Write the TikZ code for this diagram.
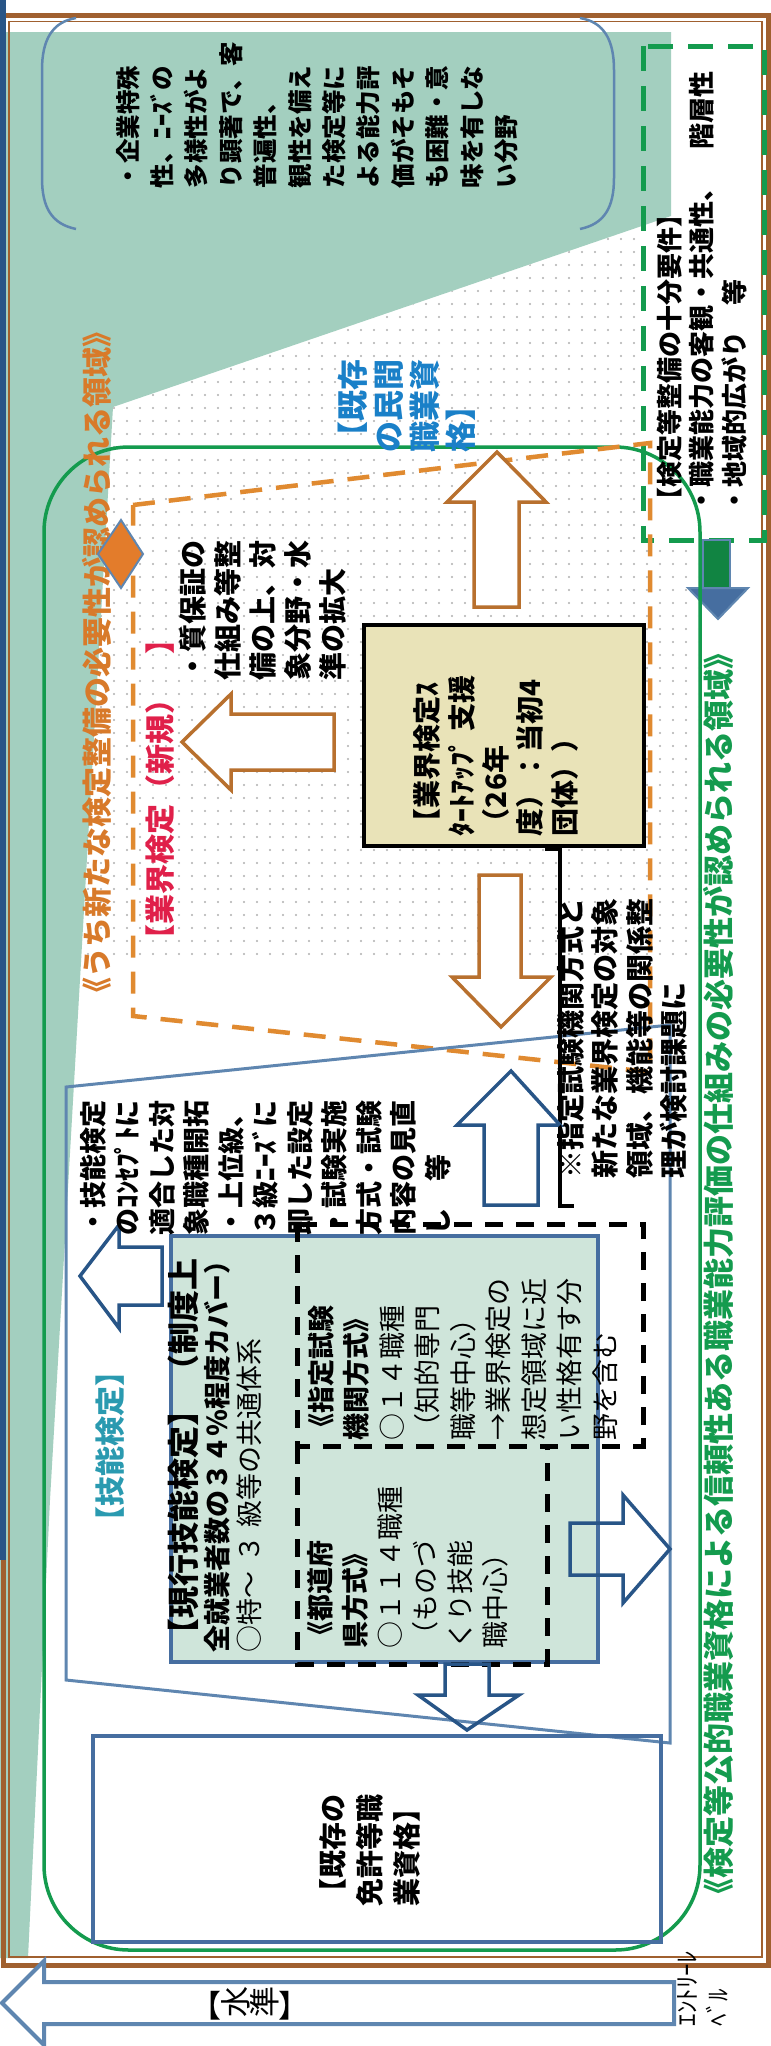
\documentclass[tikz,border=0pt]{standalone}
\usepackage{fontspec}
\usepackage{graphicx}
\setmainfont{Noto Sans CJK JP}
\definecolor{tealbg}{RGB}{163,207,191}
\definecolor{lightteal}{RGB}{207,229,218}
\definecolor{steelc}{RGB}{95,134,176}
\definecolor{boxblue}{RGB}{70,110,160}
\definecolor{navyc}{RGB}{40,85,135}
\definecolor{orangec}{RGB}{224,138,48}
\definecolor{obrown}{RGB}{184,112,46}
\definecolor{greenc}{RGB}{20,155,78}
\definecolor{brownc}{RGB}{160,96,47}
\definecolor{khaki}{RGB}{233,227,184}
\definecolor{redc}{RGB}{224,32,74}
\definecolor{bluetext}{RGB}{26,128,200}
\definecolor{tealtext}{RGB}{42,154,176}
\definecolor{orangetext}{RGB}{216,122,42}
\definecolor{dotc}{RGB}{175,175,175}
\newcommand{\fz}[2]{\fontsize{#1}{#2}\selectfont}
\begin{document}
\begin{tikzpicture}[x=1pt,y=-1pt,
  vt/.style={rotate=90,inner sep=0pt,outer sep=0pt,anchor=north west,align=left},
  ct/.style={rotate=90,inner sep=0pt,outer sep=0pt,anchor=center},
  oarrow/.style={draw=obrown,line width=3.5pt,fill=white,line join=miter},
  barrow/.style={draw=navyc,line width=3.5pt,line join=miter},
  bdash/.style={draw=black,line width=5pt,dash pattern=on 18pt off 13pt},
]
\useasboundingbox (0,0) rectangle (771,2046);
\fill[white] (0,0) rectangle (771,2046);
% teal background
\fill[tealbg] (0,32) -- (671,32) -- (671,216) -- (113,407) -- (50,1500) -- (28,1958) -- (0,1958) -- cycle;
% dotted area
\begin{scope}
\clip (113,407) -- (643,226) -- (643,540) -- (698,540) -- (698,965) -- (81,965) -- cycle;
\foreach \x in {75,88,...,700} {\foreach \y in {200,213,...,970} {\fill[dotc] (\x,\y) circle[radius=1.1pt];}}
\end{scope}
% frame
\draw[brownc,line width=5pt] (3,15) rectangle (768,1965);
\draw[brownc,line width=1.5pt] (9,21.5) rectangle (762,1957);
\fill[navyc] (0,0) rectangle (6,1560);
% top brackets
\draw[steelc,line width=2.5pt] (76,18) .. controls (52,22) and (42,40) .. (42,70) -- (42,178) .. controls (42,208) and (52,224) .. (76,229);
\draw[steelc,line width=2.5pt] (580,18) .. controls (604,22) and (614,40) .. (614,70) -- (614,178) .. controls (614,208) and (604,224) .. (580,229);
% green dashed box and green arrow
\draw[greenc,line width=5pt,dash pattern=on 25pt off 15pt] (643,46) rectangle (764,540);
\filldraw[fill=greenc!85!black,draw=steelc,line width=2.5pt] (703,540) rectangle (730,588);
\filldraw[fill=boxblue,draw=steelc,line width=2pt] (688,588) -- (748,588) -- (718,619) -- cycle;
% big green rounded region
\draw[greenc,line width=3.5pt,rounded corners=85pt] (44,447) rectangle (700,1950);
% orange dashed region
\draw[orangec,line width=4.5pt,dash pattern=on 22pt off 14pt] (133,505) -- (650,443) -- (650,1072) -- (133,1016) -- cycle;
% blue trapezoid
\draw[steelc,line width=3pt] (66,1087) -- (670,1025) -- (670,1743) -- (66,1680) -- cycle;
% current skills test box
\draw[boxblue,line width=3.5pt,fill=lightteal] (171,1236) rectangle (598,1662);
\draw[bdash] (297,1224) rectangle (643,1446);
\draw[bdash] (297,1446) -- (297,1664) -- (547,1664) -- (547,1446);
% licences box
\draw[boxblue,line width=3.5pt] (93,1736) rectangle (661,1942);
% centre box
\node[draw=black,line width=3.5pt,fill=khaki,minimum width=280pt,minimum height=221pt,inner sep=0pt] (cbox) at (504,735.5) {};
\coordinate (c1) at (545,849);
\coordinate (c2) at (560,849);
\coordinate (c3) at (560,1206);
\coordinate (c4) at (574,1206);
\draw[black,line width=4pt] (c1) -- (c2) -- (c3) -- (c4);
% orange arrows
\draw[oarrow] (182,742) -- (231,694) -- (231,714) -- (334,714) -- (334,770) -- (231,770) -- (231,790) -- cycle;
\draw[oarrow] (497,452) -- (546,502) -- (519,502) -- (519,607) -- (474,607) -- (474,502) -- (447,502) -- cycle;
\draw[oarrow] (501,1027) -- (551,977) -- (521,977) -- (521,875) -- (479,875) -- (479,977) -- (452,977) -- cycle;
% blue arrows
\draw[barrow,fill=white] (511,1071) -- (560,1125) -- (538,1125) -- (538,1205) -- (484,1205) -- (484,1125) -- (457,1125) -- cycle;
\draw[barrow,fill=white] (80,1276) -- (119,1225) -- (119,1247) -- (162,1247) -- (162,1305) -- (119,1305) -- (119,1328) -- cycle;
\draw[barrow] (670,1549) -- (623,1495) -- (623,1523) -- (570,1523) -- (570,1575) -- (623,1575) -- (623,1603) -- cycle;
\draw[barrow] (467,1730) -- (519,1695) -- (489,1695) -- (489,1664) -- (445,1664) -- (445,1695) -- (418,1695) -- cycle;
% level arrow
\draw[steelc,line width=4pt,fill=white,line join=miter] (2,2003) -- (44,1961) -- (44,1982) -- (674,1982) -- (674,2024) -- (44,2024) -- (44,2045) -- cycle;
% texts
\node[vt,font=\bfseries\fz{24.5}{34.4}] (topnote) at (116,188) {・企業特殊\\性、ﾆｰｽﾞの\\多様性がよ\\り顕著で、客\\普遍性、\\観性を備え\\た検定等に\\よる能力評\\価がそもそ\\も困難・意\\味を有しな\\い分野};
\node[vt,font=\bfseries\fz{26}{32.5}] (req) at (657,513) {【検定等整備の十分要件】\\・職業能力の客観・共通性、　階層性\\・地域的広がり　等};
\node[vt,font=\bfseries\fz{31}{36},text=bluetext] (priv) at (338,452) {【既存\\の民間\\職業資\\格】};
\node[ct,font=\bfseries\fz{30}{30},text=redc] (newl) at (160,789) {【業界検定（新規）　】};
\node[vt,font=\bfseries\fz{28}{35}] (qual) at (180,680) {・質保証の\\仕組み等整\\備の上、対\\象分野・水\\準の拡大};
\node[vt,font=\bfseries\fz{28}{34.3}] (cboxt) at (414,836) {【業界検定ｽ\\ﾀｰﾄｱｯﾌﾟ 支援\\（26年\\度）：当初4\\団体））};
\node[vt,font=\bfseries\fz{28}{34.5}] (note) at (557,1178) {※指定試験機関方式と\\新たな業界検定の対象\\領域、機能等の関係整\\理が検討課題に};
\node[vt,font=\bfseries\fz{27}{34.5}] (imp) at (80,1235) {・技能検定\\のｺﾝｾﾌﾟﾄに\\適合した対\\象職種開拓\\・上位級、\\３級ﾆｰｽﾞに\\即した設定\\・試験実施\\方式・試験\\内容の見直\\し　等};
\node[ct,font=\bfseries\fz{30}{30},text=tealtext] (ginou) at (110,1446) {【技能検定】};
\node[vt,font=\bfseries\fz{32}{32}] (cur1) at (168,1650) {【現行技能検定】\hspace{8pt}（制度上};
\node[vt,font=\bfseries\fz{27}{27}] (cur2) at (204,1652) {全就業者数の３４％程度カバー）};
\node[vt,font=\fz{27}{27}] (cur3) at (237,1652) {○特～\hspace{0.3em}３\hspace{0.3em}級等の共通体系};
\node[vt,font=\fz{27}{35.5}] (desig) at (308,1440) {\textbf{《指定試験}\\\textbf{機関方式》}\\○１４職種\\（知的専門\\職等中心）\\→業界検定の\\想定領域に近\\い性格有す分\\野を含む};
\node[vt,font=\fz{27}{35}] (pref) at (307,1648) {\textbf{《都道府}\\\textbf{県方式》}\\○１１４職種\\（ものづ\\くり技能\\職中心）};
\node[vt,font=\bfseries\fz{28}{37}] (lic) at (320,1906) {【既存の\\免許等職\\業資格】};
\node[ct,font=\bfseries\fz{30}{30},text=orangetext] (otext) at (97,662) {《うち新たな検定整備の必要性が認められる領域》};
\node[ct,font=\bfseries\fz{31}{31},text=greenc] (gtext) at (718,1274) {《検定等公的職業資格による信頼性ある職業能力評価の仕組みの必要性が認められる領域》};
\node[inner sep=0pt,font=\fz{31}{31}] (level) at (250,2003) {【\rotatebox{90}{水}\rotatebox{90}{準}】};
\node[vt,font=\fz{25}{31}] (entry) at (678,2026) {ｴﾝﾄﾘｰﾚ\\ﾍﾞﾙ};
% small orange marker
\filldraw[fill=orangec!90!red,draw=steelc,line width=2pt] (98,554) -- (121,520) -- (143,554) -- (121,588) -- cycle;
\end{tikzpicture}
\end{document}
